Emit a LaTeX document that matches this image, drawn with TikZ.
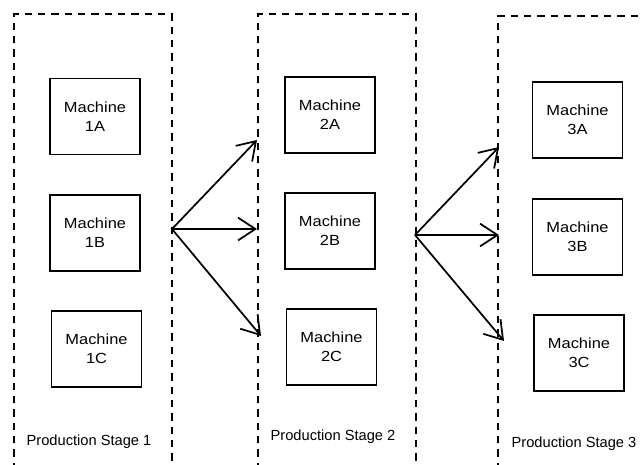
\documentclass[tikz,border=0pt]{standalone}
\usepackage{fontspec}
\setmainfont{Liberation Sans}
\newfontfamily\machinefont[FakeStretch=1.12]{Liberation Sans}
\usepackage{tikz}
\usetikzlibrary{arrows.meta,positioning}
\tikzset{
  every node/.style={
    font=\fontsize{11pt}{14.5pt}\selectfont
  },
  machine/.style={
    shape=rectangle,
    draw=black,
    line width=1.3pt,
    fill=white,
    minimum width=67.5pt,
    minimum height=57pt,
    align=center,
    font=\machinefont\fontsize{11pt}{14.5pt}\selectfont
  },
  stage/.style={
    draw=black,
    line width=1.4pt,
    dash pattern=on 5.5pt off 4.5pt
  },
  stagelabel/.style={
    inner sep=1pt
  },
  flow/.style={
    draw=black,
    line width=1.3pt,
    -{Straight Barb[length=13pt,width=17pt]}
  }
}

\begin{document}
\begin{tikzpicture}[x=0.75pt,y=-0.75pt]
    \useasboundingbox (0,0) rectangle (644,465);
    \draw [stage] (14,470) -- (14,14) -- (172,14) -- (172,470);
    \draw [stage] (258,470) -- (258,14) -- (416,14) -- (416,470);
    \draw [stage] (498,470) -- (498,16) -- (650,16);

    \node [machine] (m1a) at (95,116.5) {Machine\\1A};
    \node [machine] (m1b) at (95,233) {Machine\\1B};
    \node [machine] (m1c) at (96.5,349) {Machine\\1C};
    \node [machine] (m2a) at (330,115) {Machine\\2A};
    \node [machine] (m2b) at (330,231) {Machine\\2B};
    \node [machine] (m2c) at (331.5,347) {Machine\\2C};
    \node [machine] (m3a) at (577.5,120) {Machine\\3A};
    \node [machine] (m3b) at (577.5,237) {Machine\\3B};
    \node [machine] (m3c) at (579,353) {Machine\\3C};

    \node [stagelabel] (l1) at (89,442) {Production Stage 1};
    \node [stagelabel] (l2) at (333,437) {Production Stage 2};
    \node [stagelabel] (l3) at (574,444) {Production Stage 3};

    \coordinate (s1out) at (172,229);
    \coordinate (s2a) at (257,140);
    \coordinate (s2b) at (257,229);
    \coordinate (s2c) at (261,336);
    \coordinate (s2out) at (415,235);
    \coordinate (s3a) at (499,147);
    \coordinate (s3b) at (499,235);
    \coordinate (s3c) at (504,341);

    \draw [flow] (s1out) -- (s2a);
    \draw [flow] (s1out) -- (s2b);
    \draw [flow] (s1out) -- (s2c);
    \draw [flow] (s2out) -- (s3a);
    \draw [flow] (s2out) -- (s3b);
    \draw [flow] (s2out) -- (s3c);
\end{tikzpicture}
\end{document}
